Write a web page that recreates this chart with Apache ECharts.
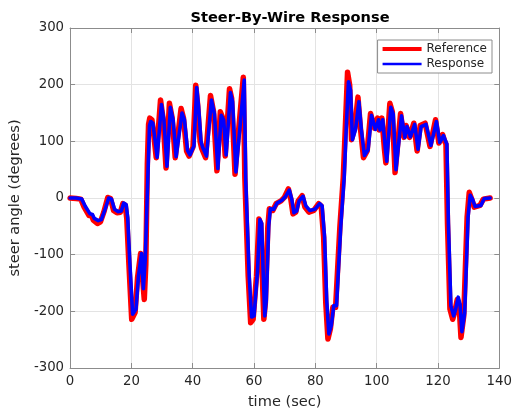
<!DOCTYPE html>
<html>
<head>
<meta charset="utf-8">
<script src="https://cdn.jsdelivr.net/npm/echarts@6/dist/echarts.min.js"></script>
<style>
  html, body { margin: 0; padding: 0; background: #fff; }
  #chart { width: 515px; height: 415px; }
</style>
</head>
<body>
<div id="chart"></div>
<script>
// reference steering command (time in sec, angle in degrees)
var refTime = [0, 2, 3.5, 4.6, 6.2, 7, 7.6, 8.9, 9.9, 11, 12.3, 13.2, 14.2, 15.3, 16.4, 17.2, 18, 18.5, 19.2, 20.1,
  21.2, 22, 23, 23.6, 24.2, 24.7, 25.2, 25.6, 26, 26.7, 27.4, 28.1, 29.5, 30.3, 31.3, 32.4, 33.3, 34.3, 36.2, 37,
  38, 38.8, 39.4, 40.1, 41, 41.6, 42.4, 42.9, 44.2, 45.8, 46.8, 47.9, 49, 49.8, 50.6, 52, 52.7, 53.8, 54.9, 55.5,
  56.5, 57, 58.1, 58.9, 59.7, 60.8, 61.6, 62.2, 62.7, 63.2, 63.7, 64.5, 65, 66.1, 67.2, 68.8, 69.9, 71.2, 72, 72.7,
  73.6, 74.4, 75.7, 76.6, 77.9, 79.5, 81.1, 81.9, 82.7, 83.4, 84.1, 84.9, 85.7, 86.6, 88, 89.1, 89.9, 90.5, 91.2, 91.8,
  92.8, 93.9, 94.7, 95.7, 96.9, 98, 99.3, 100.3, 100.8, 101.7, 102.5, 103, 104.3, 105.1, 106, 107.8, 108.9, 109.6, 110.7, 112.1,
  113.2, 114.2, 115.8, 117.4, 119.2, 120.3, 121.5, 122.2, 122.6, 123.1, 123.9, 124.8, 125.4, 126.3, 126.9, 127.5, 128.4, 129.5, 130.2, 131,
  131.8, 133.7, 134.8, 137]
var refAngle = [0, -1, -2, -16, -31, -31, -39, -45, -42, -25, 1, -1, -22, -26, -25, -10, -13, -37, -118, -214,
  -202, -141, -98, -100, -179, -118, 60, 130, 141, 138, 106, 71, 173, 141, 53, 167, 141, 71, 158, 141,
  83, 74, 76, 90, 199, 165, 100, 88, 71, 181, 152, 48, 152, 141, 74, 193, 176, 42, 115, 115,
  213, 36, -138, -220, -214, -138, -37, -45, -138, -214, -185, -51, -19, -22, -10, -5, 1, 16, -2, -28,
  -25, -5, 4, -16, -25, -22, -10, -14, -69, -185, -249, -231, -193, -193, -51, 36, 141, 222, 199, 103,
  123, 178, 123, 71, 83, 149, 123, 141, 120, 141, 88, 62, 167, 152, 45, 149, 107, 128, 107, 132,
  83, 128, 132, 91, 138, 97, 112, 100, 95, -45, -196, -214, -202, -179, -191, -246, -208, -34, 10, -2,
  -16, -13, -2, 0]

// measured steering response
var resTime = [0, 2, 3.8, 4.9, 6.5, 7.3, 7.9, 9.2, 10.2, 11.3, 12.6, 13.5, 14.5, 15.6, 16.7, 17.5, 18.3, 18.8, 19.5, 20.4,
  21.5, 22.3, 23.3, 23.9, 24.5, 25.5, 25.9, 26.3, 27, 27.7, 28.4, 29.8, 30.6, 31.6, 32.7, 33.6, 34.6, 36.5, 37.3, 38.3,
  39.1, 39.7, 40.4, 41.3, 41.9, 42.7, 43.2, 44.5, 46.1, 47.1, 48.2, 49.3, 50.1, 50.9, 52.3, 53, 54.1, 55.2, 55.8, 56.8,
  57.3, 58.4, 59.2, 60, 61.1, 61.9, 62.5, 63, 63.5, 64, 64.8, 65.3, 66.4, 67.5, 69.1, 70.2, 71.5, 72.3, 73, 73.9,
  74.7, 76, 76.9, 78.2, 79.8, 81.4, 82.2, 83, 83.7, 84.4, 85.2, 86, 86.9, 88.3, 89.4, 90.2, 90.8, 91.5, 92.1, 93.1,
  94.2, 95, 96, 97.2, 98.3, 99.6, 100.6, 101.1, 102, 102.8, 103.3, 104.6, 105.4, 106.3, 108.1, 109.2, 109.9, 111, 112.4, 113.5,
  114.5, 116.1, 117.7, 119.5, 120.6, 121.8, 122.5, 122.9, 123.4, 124.2, 125.1, 125.7, 126.6, 127.2, 127.8, 128.7, 129.8, 130.5, 131.3, 132.1,
  134, 135.1, 137]
var resAngle = [0, 0, -2, -14, -28, -29, -36, -40, -38, -22, 0, -2, -20, -24, -23, -9, -12, -35, -115, -205,
  -196, -138, -98, -160, -110, 60, 128, 135, 132, 103, 72, 165, 138, 56, 160, 138, 73, 150, 138, 84,
  76, 78, 92, 195, 162, 100, 90, 74, 173, 148, 52, 146, 138, 76, 186, 170, 46, 112, 113, 208,
  30, -135, -210, -208, -132, -38, -45, -135, -208, -180, -48, -19, -20, -9, -4, 2, 14, -2, -26, -23,
  -5, 3, -14, -22, -20, -10, -14, -69, -180, -240, -225, -190, -190, -49, 36, 138, 205, 190, 103, 121,
  170, 121, 75, 85, 146, 121, 138, 120, 138, 88, 65, 160, 148, 50, 145, 107, 126, 108, 130, 86,
  126, 130, 93, 135, 98, 110, 100, 95, -45, -190, -208, -198, -175, -188, -236, -203, -34, 5, -3, -15,
  -13, -1, 0]

var xTicks = { min: 0, max: 140, step: 20 }
var yTicks = { min: -300, max: 300, step: 100 }

function pairs(ts, vs) {
  var out = []
  for (var i = 0; i < ts.length; i++) {
    out.push([ts[i], vs[i]])
  }
  return out
}

var font = 'DejaVu Sans'
var textColor = '#262626'
var axisColor = '#8c8c8c'
var gridColor = '#e3e3e3'

// legend line icons: thin bar centred in a 39x12 box (corner specks fix the box size)
function barIcon(h) {
  var y0 = 6 - h / 2, y1 = 6 + h / 2
  return 'path://M0,0H39V0.01H0Z M0,11.99H39V12H0Z M0,' + y0 + 'H39V' + y1 + 'H0Z'
}

function valueAxis(range, pos, showLabel) {
  return {
    type: 'value',
    position: pos,
    min: range.min,
    max: range.max,
    interval: range.step,
    axisLine: { show: true, onZero: false, lineStyle: { color: axisColor, width: 1 } },
    axisTick: { show: true, inside: true, length: 5, lineStyle: { color: axisColor } },
    axisLabel: { show: showLabel, color: textColor, fontFamily: font, fontSize: 13.3 },
    splitLine: { show: showLabel, lineStyle: { color: gridColor, width: 1 } }
  }
}

var chart = echarts.init(document.getElementById('chart'), null, { renderer: 'canvas' })

var xBottom = valueAxis(xTicks, 'bottom', true)
xBottom.axisLabel.margin = 7
xBottom.name = 'time (sec)'
xBottom.nameLocation = 'middle'
xBottom.nameGap = 27
xBottom.nameTextStyle = { color: textColor, fontFamily: font, fontSize: 14.6 }

var yLeft = valueAxis(yTicks, 'left', true)
yLeft.axisLabel.margin = 6
yLeft.name = 'steer angle (degrees)'
yLeft.nameLocation = 'middle'
yLeft.nameGap = 41
yLeft.nameTextStyle = { color: textColor, fontFamily: font, fontSize: 14.6 }

chart.setOption({
  animation: false,
  backgroundColor: '#fff',
  title: {
    text: 'Steer-By-Wire Response',
    left: 285,
    textAlign: 'center',
    top: 6,
    textStyle: { color: '#000', fontFamily: font, fontSize: 14.6, fontWeight: 'bold' }
  },
  grid: { left: 67, right: 12, top: 28, bottom: 43, containLabel: false },
  legend: {
    orient: 'vertical',
    right: 23,
    top: 40,
    padding: [3, 5, 3, 5],
    itemWidth: 39,
    itemHeight: 12,
    itemGap: 3,
    backgroundColor: '#fff',
    borderColor: '#8c8c8c',
    borderWidth: 1,
    borderRadius: 0,
    itemStyle: { borderWidth: 0 },
    textStyle: { color: textColor, fontFamily: font, fontSize: 12 },
    data: [
      { name: 'Reference', icon: barIcon(4) },
      { name: 'Response', icon: barIcon(2.6) }
    ]
  },
  xAxis: [xBottom, valueAxis(xTicks, 'top', false)],
  yAxis: [yLeft, valueAxis(yTicks, 'right', false)],
  series: [
    {
      name: 'Reference',
      type: 'line',
      symbol: 'none',
      data: pairs(refTime, refAngle),
      lineStyle: { color: '#ff0000', width: 5.5, cap: 'round', join: 'round' },
      itemStyle: { color: '#ff0000' },
      z: 2
    },
    {
      name: 'Response',
      type: 'line',
      symbol: 'none',
      data: pairs(resTime, resAngle),
      lineStyle: { color: '#0000ff', width: 3.6, cap: 'round', join: 'round' },
      itemStyle: { color: '#0000ff' },
      z: 3
    }
  ]
})

window.addEventListener('resize', function () {
  chart.resize()
})
</script>
</body>
</html>
